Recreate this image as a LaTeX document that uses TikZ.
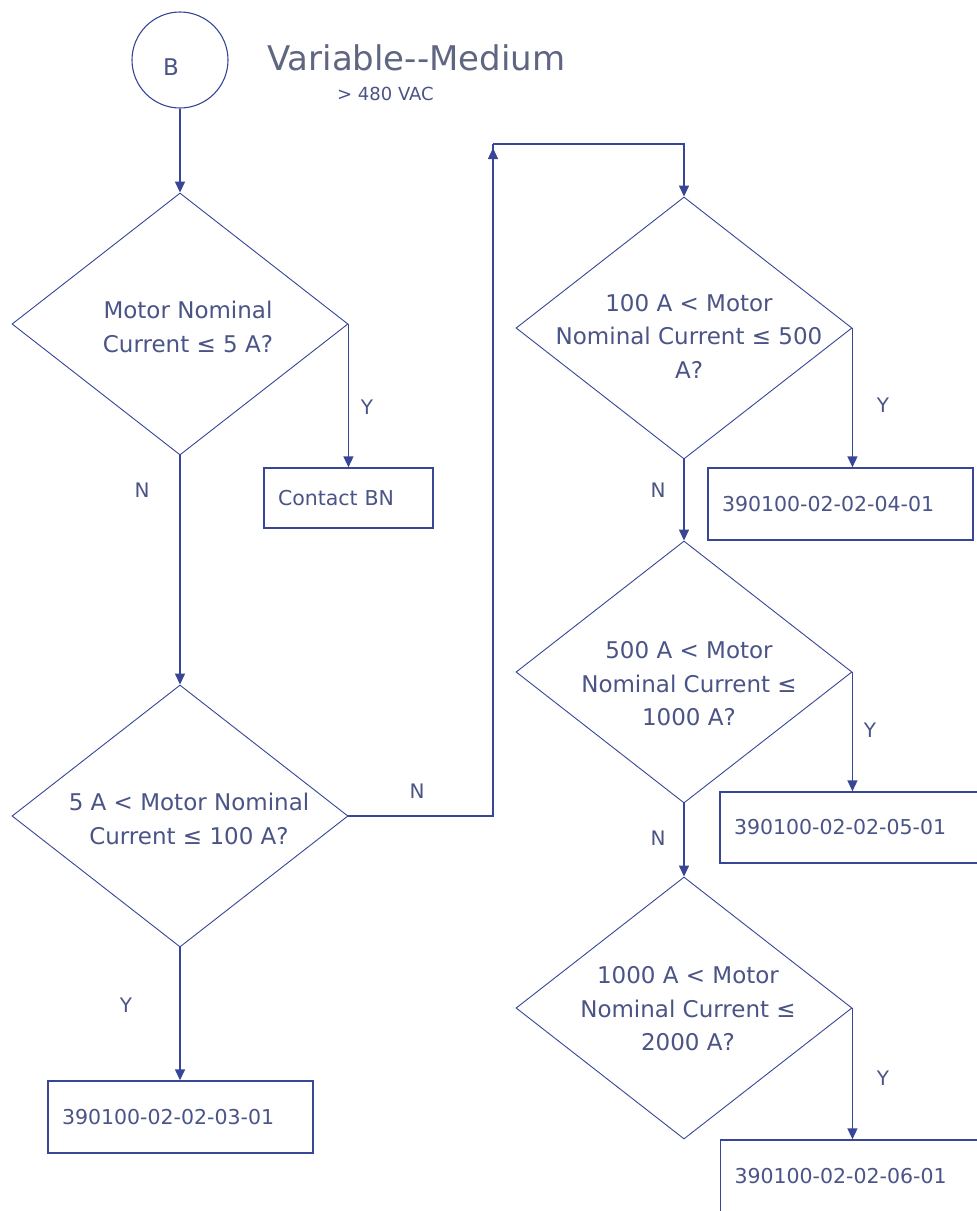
\documentclass[tikz,border=0pt]{standalone}
\usepackage{fontspec}
\setmainfont{DejaVu Sans}
\newfontfamily\symf{DejaVu Sans}
\usetikzlibrary{shapes.geometric,arrows.meta}
\definecolor{ln}{RGB}{55,70,150}
\definecolor{tx}{RGB}{75,84,135}
\definecolor{tt}{RGB}{95,102,130}
\newcommand{\leqsym}{{\symf ≤}}
\begin{document}
\begin{tikzpicture}[x=1pt,y=-1pt,
  conn/.style={draw=ln, line width=1.4pt},
  arr/.style={conn, -{Triangle[length=11pt,width=10pt]}},
  dia/.style={draw=ln, line width=0.9pt, diamond, minimum width=336pt, minimum height=262pt, inner sep=0pt},
  dtxt/.style={text=tx, font=\fontsize{23}{33.5}\selectfont, align=center, inner sep=0pt},
  box/.style={draw=ln, line width=1.4pt, text=tx, font=\fontsize{20.5}{26}\selectfont, align=left, inner xsep=14pt, inner ysep=0pt},
  yn/.style={text=tx, font=\fontsize{20}{24}\selectfont, inner sep=0pt}]
\clip (0,0) rectangle (977,1211);
\fill[white] (0,0) rectangle (977,1211);

% start circle and title
\node[circle, draw=ln, line width=1.1pt, minimum size=96pt, inner sep=0pt] (B) at (180,60) {};
\node[text=tx, font=\fontsize{23}{28}\selectfont, anchor=base, inner sep=0pt] (Bt) at (171,75) {B};
\node[anchor=base west, text=tt, font=\fontsize{34}{40}\selectfont, inner sep=0pt] (title) at (267,70) {Variable-{}-Medium};
\node[anchor=base west, text=tx, font=\fontsize{18}{22}\selectfont, inner sep=0pt] (sub) at (337,100) {> 480 VAC};

% decisions
\node[dia] (d1) at (180,324) {};
\node[dia] (d2) at (180,816) {};
\node[dia] (d3) at (684,328) {};
\node[dia] (d4) at (684,672) {};
\node[dia] (d5) at (684,1008) {};

\node[dtxt] (t1) at (188,327) {Motor Nominal\\Current \leqsym{} 5 A?};
\node[dtxt] (t2) at (189,819) {5 A < Motor Nominal\\Current \leqsym{} 100 A?};
\node[dtxt] (t3) at (689,336) {100 A < Motor\\Nominal Current \leqsym{} 500\\A?};
\node[dtxt] (t4) at (689,684) {500 A < Motor\\Nominal Current \leqsym\\1000 A?};
\node[dtxt] (t5) at (688,1009) {1000 A < Motor\\Nominal Current \leqsym\\2000 A?};

% result boxes
\node[box, text width=141pt, minimum height=60pt] (bc) at (348.5,498) {Contact BN};
\node[box, text width=237pt, minimum height=72pt] (b3) at (180.5,1117) {390100-02-02-03-01};
\node[box, text width=237pt, minimum height=72pt] (b4) at (840.5,504) {390100-02-02-04-01};
\node[box, text width=242pt, minimum height=71pt] (b5) at (855,827.5) {390100-02-02-05-01};
\node[box, text width=242pt, minimum height=72pt] (b6) at (855.5,1176) {390100-02-02-06-01};

% connectors
\coordinate (c1) at (493,144);
\coordinate (c2) at (684,144);
\draw[arr] (B.south) -- (d1.north);
\draw[arr] (d1.east) -- (d1.east |- bc.north);
\draw[arr] (d1.south) -- (d2.north);
\draw[arr] (d2.east) -- (d2.east -| c1) -- ([yshift=-4pt]c1);
\draw[conn] ([yshift=-6pt]c1) -- (c1);
\draw[arr] (c1) -- (c2) -- (d3.north);
\draw[arr] (d2.south) -- (d2.south |- b3.north);
\draw[arr] (d3.east) -- (d3.east |- b4.north);
\draw[arr] (d3.south) -- (d4.north);
\draw[arr] (d4.east) -- (d4.east |- b5.north);
\draw[arr] (d4.south) -- (d5.north);
\draw[arr] (d5.east) -- (d5.east |- b6.north);

% branch labels
\node[yn] (y1) at (367,407) {Y};
\node[yn] (n1) at (142,490) {N};
\node[yn] (n2) at (417,791) {N};
\node[yn] (y2) at (126,1005) {Y};
\node[yn] (y3) at (883,405) {Y};
\node[yn] (n3) at (658,490) {N};
\node[yn] (y4) at (870,730) {Y};
\node[yn] (n4) at (658,838) {N};
\node[yn] (y5) at (883,1078) {Y};
\end{tikzpicture}
\end{document}
